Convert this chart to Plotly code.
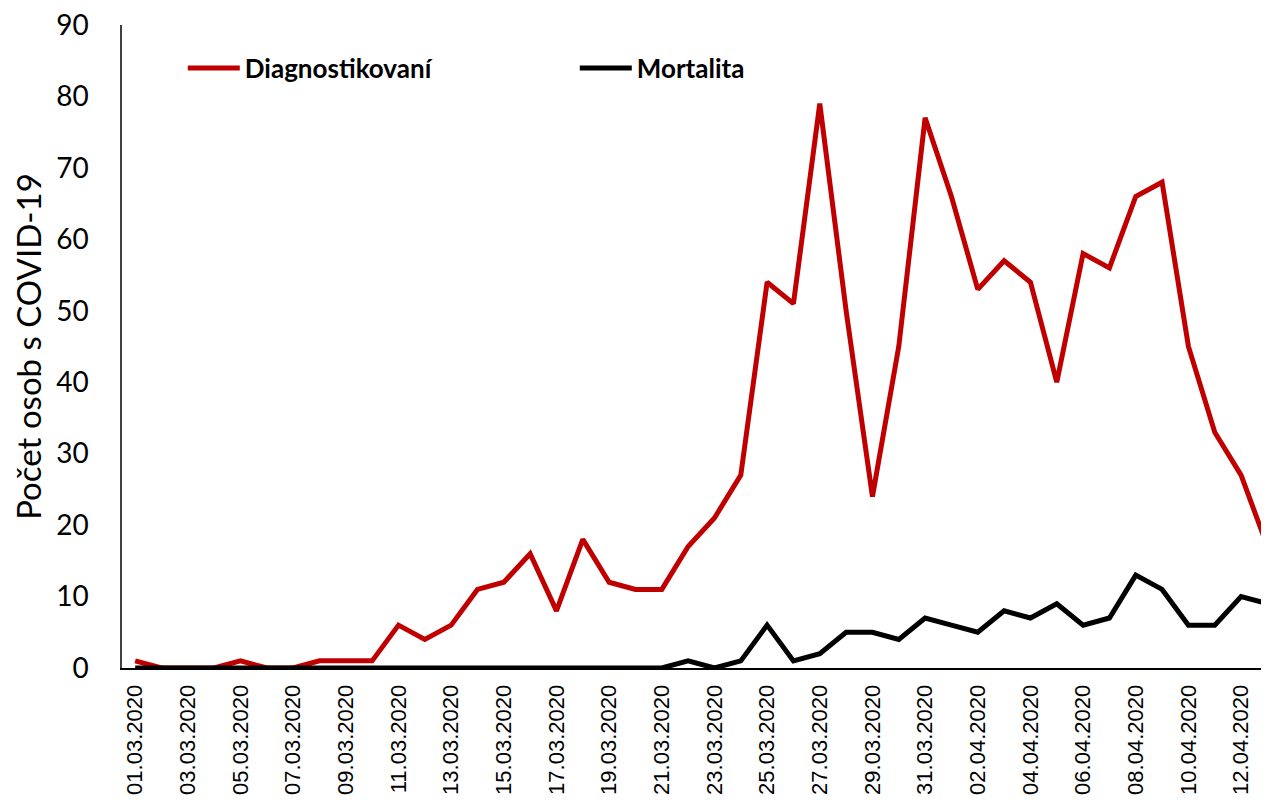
import plotly.graph_objects as go

dates = [
    "01.03.2020", "02.03.2020", "03.03.2020", "04.03.2020", "05.03.2020",
    "06.03.2020", "07.03.2020", "08.03.2020", "09.03.2020", "10.03.2020",
    "11.03.2020", "12.03.2020", "13.03.2020", "14.03.2020", "15.03.2020",
    "16.03.2020", "17.03.2020", "18.03.2020", "19.03.2020", "20.03.2020",
    "21.03.2020", "22.03.2020", "23.03.2020", "24.03.2020", "25.03.2020",
    "26.03.2020", "27.03.2020", "28.03.2020", "29.03.2020", "30.03.2020",
    "31.03.2020", "01.04.2020", "02.04.2020", "03.04.2020", "04.04.2020",
    "05.04.2020", "06.04.2020", "07.04.2020", "08.04.2020", "09.04.2020",
    "10.04.2020", "11.04.2020", "12.04.2020", "13.04.2020",
]

diagnostikovani = [
    1, 0, 0, 0, 1, 0, 0, 1, 1, 1,
    6, 4, 6, 11, 12, 16, 8, 18, 12, 11,
    11, 17, 21, 27, 54, 51, 79, 50, 24, 45,
    77, 66, 53, 57, 54, 40, 58, 56, 66, 68,
    45, 33, 27, 17,
]

mortalita = [
    0, 0, 0, 0, 0, 0, 0, 0, 0, 0,
    0, 0, 0, 0, 0, 0, 0, 0, 0, 0,
    0, 1, 0, 1, 6, 1, 2, 5, 5, 4,
    7, 6, 5, 8, 7, 9, 6, 7, 13, 11,
    6, 6, 10, 9,
]

tick_labels = dates[::2]
y_ticks = [0, 10, 20, 30, 40, 50, 60, 70, 80, 90]

fig = go.Figure()
fig.add_trace(go.Scatter(
    x=dates, y=diagnostikovani, mode="lines", name="Diagnostikovaní",
    line=dict(color="#C00000", width=5), cliponaxis=False,
))
fig.add_trace(go.Scatter(
    x=dates, y=mortalita, mode="lines", name="Mortalita",
    line=dict(color="#000000", width=5), cliponaxis=False,
))

fig.update_layout(
    width=1261, height=798,
    margin=dict(l=114, r=0, t=17, b=138, autoexpand=False),
    paper_bgcolor="white", plot_bgcolor="white",
    showlegend=True,
    legend=dict(
        orientation="h", x=0.053, y=0.933, xanchor="left", yanchor="middle",
        font=dict(family="Lato, Carlito, Calibri, sans-serif", size=26, color="black", weight="bold"),
        entrywidth=325, entrywidthmode="pixels", itemwidth=52,
        bgcolor="rgba(0,0,0,0)",
    ),
    xaxis=dict(
        type="category", categoryorder="array", categoryarray=dates,
        range=[-0.5, 43.06], automargin=False,
        tickmode="array", tickvals=tick_labels, ticktext=tick_labels,
        tickangle=-90, showgrid=False, zeroline=False,
        showline=True, linecolor="black", linewidth=2,
        ticks="", ticklabelstandoff=6, ticklabeloverflow="allow",
        tickfont=dict(family="Liberation Sans, Arial, sans-serif", size=22, color="black"),
    ),
    yaxis=dict(
        range=[0, 90], tickmode="array", tickvals=y_ticks, automargin=False,
        showgrid=False, zeroline=False,
        showline=True, linecolor="#404040", linewidth=1.5,
        ticks="", ticklabelstandoff=26, ticklabeloverflow="allow",
        tickfont=dict(family="Lato, Carlito, Calibri, sans-serif", size=28, color="black"),
        title=dict(text="Počet osob s COVID-19", standoff=13,
                   font=dict(family="Lato, Carlito, Calibri, sans-serif", size=33, color="black")),
    ),
)

fig.write_html("out.html")
